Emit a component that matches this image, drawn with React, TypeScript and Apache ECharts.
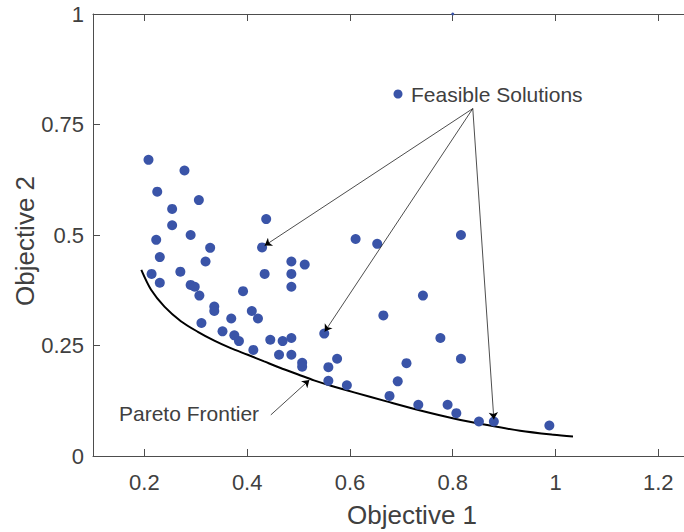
import React, { useEffect, useRef } from "react";
import * as echarts from "echarts";

// Feasible solutions (Objective 1, Objective 2)
const solObj1 = [
  0.208, 0.278, 0.225, 0.306, 0.254, 0.437, 0.254, 0.290, 0.223, 0.328,
  0.429, 0.611, 0.653, 0.230, 0.319, 0.486, 0.512, 0.214, 0.270, 0.434,
  0.486, 0.230, 0.290, 0.298, 0.486, 0.392, 0.307, 0.336, 0.336, 0.409,
  0.369, 0.421, 0.311, 0.352, 0.375, 0.384, 0.445, 0.469, 0.486, 0.550,
  0.412, 0.462, 0.486, 0.507, 0.507, 0.575, 0.558, 0.558, 0.594, 0.816,
  0.742, 0.665, 0.776, 0.816, 0.710, 0.693, 0.677, 0.733, 0.790, 0.807,
  0.851, 0.880, 0.988,
];
const solObj2 = [
  0.670, 0.646, 0.598, 0.579, 0.559, 0.536, 0.522, 0.500, 0.489, 0.471,
  0.472, 0.491, 0.480, 0.450, 0.440, 0.440, 0.433, 0.412, 0.417, 0.412,
  0.412, 0.392, 0.387, 0.383, 0.383, 0.373, 0.363, 0.338, 0.328, 0.328,
  0.311, 0.311, 0.301, 0.282, 0.273, 0.260, 0.263, 0.260, 0.267, 0.277,
  0.240, 0.229, 0.229, 0.211, 0.202, 0.220, 0.201, 0.170, 0.160, 0.500,
  0.363, 0.318, 0.267, 0.220, 0.210, 0.169, 0.136, 0.116, 0.116, 0.097,
  0.078, 0.078, 0.069,
];

// Point sitting on the upper limit of Objective 2
const edgeObj1 = [0.8];
const edgeObj2 = [1.0];

// Pareto frontier trace
const frontObj1 = [
  0.194, 0.213, 0.239, 0.271, 0.304, 0.336, 0.368, 0.401, 0.433, 0.465,
  0.498, 0.530, 0.563, 0.608, 0.673, 0.737, 0.802, 0.867, 0.931, 0.996, 1.034,
];
const frontObj2 = [
  0.421, 0.376, 0.338, 0.305, 0.281, 0.261, 0.244, 0.229, 0.214, 0.199,
  0.185, 0.171, 0.159, 0.144, 0.123, 0.103, 0.085, 0.070, 0.057, 0.048, 0.044,
];

// Annotation arrows: [fromX, fromY, toX, toY]
const feasibleArrows = [
  [0.839, 0.786, 0.434, 0.476],
  [0.839, 0.786, 0.551, 0.2815],
  [0.839, 0.786, 0.880, 0.083],
];
const frontierArrow = [0.446, 0.093, 0.521, 0.172];

const xTicks = [0.2, 0.4, 0.6, 0.8, 1, 1.2];
const yTicks = [0, 0.25, 0.5, 0.75, 1];

const FONT = "'Liberation Sans', Arial, Helvetica, sans-serif";
const DOT = "#3a54a8";
const AXIS = "#4d4d4d";
const TEXT = "#404040";

export default function App() {
  const ref = useRef<HTMLDivElement>(null);

  useEffect(() => {
    if (!ref.current) return;
    const chart = echarts.init(ref.current, null, { renderer: "svg" });

    const sol = solObj1.map((x, i) => [x, solObj2[i]]);
    const edge = edgeObj1.map((x, i) => [x, edgeObj2[i]]);
    const front = frontObj1.map((x, i) => [x, frontObj2[i]]);
    const arrows = [...feasibleArrows, frontierArrow].map((a) => ({
      coords: [
        [a[0], a[1]],
        [a[2], a[3]],
      ],
    }));

    const baseX = {
      type: "value" as const,
      min: 0.1,
      max: 1.25,
      splitLine: { show: false },
      axisLine: { show: true, onZero: false, lineStyle: { color: AXIS, width: 1 } },
      axisTick: {
        show: true,
        inside: true,
        length: 7,
        customValues: xTicks,
        lineStyle: { color: AXIS },
      },
    };

    chart.setOption({
      animation: false,
      grid: { left: 93, top: 14, width: 592, height: 442, containLabel: false },
      xAxis: [
        {
          ...baseX,
          position: "bottom",
          axisLabel: {
            show: true,
            customValues: xTicks,
            margin: 15,
            color: TEXT,
            fontSize: 22,
            fontFamily: FONT,
            formatter: (v: number) => String(v),
          },
        },
        {
          ...baseX,
          position: "top",
          axisLabel: { show: false },
        },
      ],
      yAxis: {
        type: "value",
        min: 0,
        max: 1,
        splitLine: { show: false },
        axisLine: { show: true, onZero: false, lineStyle: { color: AXIS, width: 1 } },
        axisTick: {
          show: true,
          inside: true,
          length: 7,
          customValues: yTicks,
          lineStyle: { color: AXIS },
        },
        axisLabel: {
          customValues: yTicks,
          margin: 9,
          color: TEXT,
          fontSize: 22,
          fontFamily: FONT,
          formatter: (v: number) => String(v),
        },
      },
      series: [
        {
          type: "line",
          data: front,
          smooth: 0.3,
          showSymbol: false,
          lineStyle: { color: "#000", width: 2 },
          z: 2,
        },
        {
          type: "scatter",
          data: sol,
          symbol: "circle",
          symbolSize: 10,
          itemStyle: { color: DOT, opacity: 1 },
          z: 3,
        },
        {
          type: "scatter",
          data: edge,
          symbol: "circle",
          symbolSize: 3,
          itemStyle: { color: DOT, opacity: 1 },
          z: 3,
        },
        {
          type: "lines",
          coordinateSystem: "cartesian2d",
          data: arrows,
          symbol: ["none", "arrow"],
          symbolSize: 7,
          lineStyle: { color: "#000", width: 0.7, opacity: 1 },
          z: 4,
        },
      ],
      graphic: [
        {
          type: "circle",
          shape: { cx: 398, cy: 94, r: 4.5 },
          style: { fill: DOT },
        },
        {
          type: "text",
          x: 411,
          y: 94,
          style: {
            text: "Feasible Solutions",
            fill: TEXT,
            fontSize: 21,
            fontFamily: FONT,
            textAlign: "left",
            textVerticalAlign: "middle",
          },
        },
        {
          type: "text",
          x: 119,
          y: 413,
          style: {
            text: "Pareto Frontier",
            fill: TEXT,
            fontSize: 21,
            fontFamily: FONT,
            textAlign: "left",
            textVerticalAlign: "middle",
          },
        },
        {
          type: "text",
          x: 412,
          y: 515,
          style: {
            text: "Objective 1",
            fill: TEXT,
            fontSize: 26,
            fontFamily: FONT,
            textAlign: "center",
            textVerticalAlign: "middle",
          },
        },
        {
          type: "text",
          x: 25,
          y: 241,
          rotation: Math.PI / 2,
          style: {
            text: "Objective 2",
            fill: TEXT,
            fontSize: 26,
            fontFamily: FONT,
            textAlign: "center",
            textVerticalAlign: "middle",
          },
        },
      ],
    });

    return () => chart.dispose();
  }, []);

  return (
    <div
      ref={ref}
      style={{ position: "absolute", left: 0, top: 0, width: 684, height: 532, background: "#fff" }}
    />
  );
}
